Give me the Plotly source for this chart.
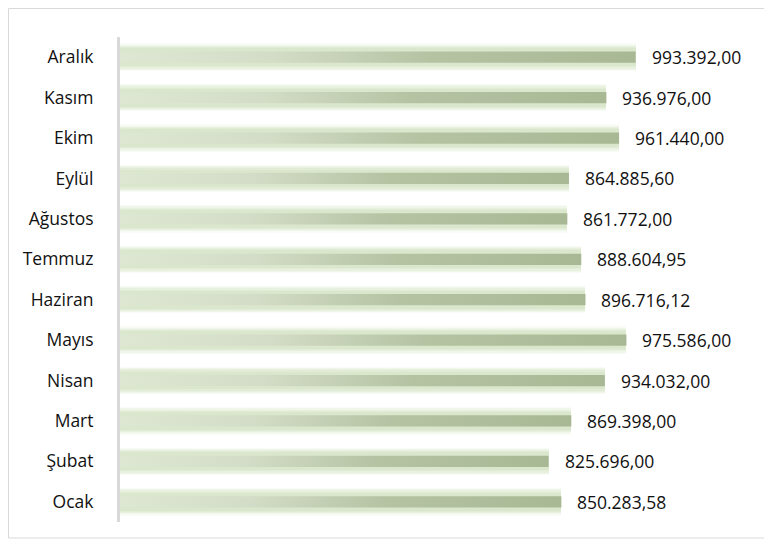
"""Monthly totals — horizontal bars with soft green gradient."""
import plotly.graph_objects as go

months = ["Ocak", "Şubat", "Mart", "Nisan", "Mayıs", "Haziran",
          "Temmuz", "Ağustos", "Eylül", "Ekim", "Kasım", "Aralık"]
values = [850283.58, 825696.00, 869398.00, 934032.00, 975586.00, 896716.12,
          888604.95, 861772.00, 864885.60, 961440.00, 936976.00, 993392.00]

# page body has an 8px margin, so the figure is drawn 8px smaller
W, H = 764, 537
ML, MR, MT, MB = 112, 27, 29, 23
FONT = "Open Sans"
CORE = 0.14  # half height of the dark core band


def tr_fmt(v):
    s = f"{v:,.2f}"
    return s.replace(",", "#").replace(".", ",").replace("#", ".")


pos = list(range(len(months)))
fig = go.Figure()

# soft glow: stacked translucent layers, widest first
for width, alpha in [(0.68, 0.15), (0.62, 0.22), (0.56, 0.30),
                     (0.50, 0.38), (0.44, 0.45)]:
    fig.add_trace(go.Bar(x=values, y=pos, orientation="h", width=width,
                         marker=dict(color=f"rgba(212,227,196,{alpha})",
                                     line=dict(width=0)),
                         hoverinfo="skip", showlegend=False))

# core bars with a left-to-right gradient
for p, v in zip(pos, values):
    fig.add_trace(go.Scatter(
        x=[0, v, v, 0, 0], y=[p - CORE, p - CORE, p + CORE, p + CORE, p - CORE],
        mode="lines", line=dict(width=0), fill="toself",
        fillgradient=dict(type="horizontal",
                          colorscale=[[0, "rgba(222,231,210,0.9)"],
                                      [0.3, "#d3dcc6"],
                                      [0.6, "#b5c3a3"],
                                      [1, "#a8b894"]]),
        hoverinfo="skip", showlegend=False))

for p, v in zip(pos, values):
    fig.add_annotation(x=v, y=p, text=tr_fmt(v), showarrow=False,
                       xanchor="left", xshift=14,
                       font=dict(family=FONT, size=17.5, color="#111111"))

pw = W - ML - MR
ph = H - MT - MB
fig.add_shape(type="rect", xref="paper", yref="paper",
              x0=(0.5 - ML) / pw, x1=(762 - ML) / pw,
              y0=(H - 530 - MB) / ph, y1=(H - 0.5 - MB) / ph,
              line=dict(color="#d9d9d9", width=1), layer="below")

fig.update_layout(
    width=W, height=H, barmode="overlay", bargap=0,
    margin=dict(l=ML, r=MR, t=MT, b=MB),
    paper_bgcolor="white", plot_bgcolor="white",
    font=dict(family=FONT, size=17.5, color="#111111"),
)
fig.update_xaxes(range=[0, 1204000], showgrid=False, zeroline=False,
                 showticklabels=False, showline=False)
fig.update_yaxes(range=[-0.5, 11.5], tickvals=pos, ticktext=months,
                 showgrid=False, zeroline=False, showline=True,
                 linecolor="#d9d9d9", linewidth=3, ticks="",
                 ticklabelstandoff=20)

fig.write_html("out.html")
